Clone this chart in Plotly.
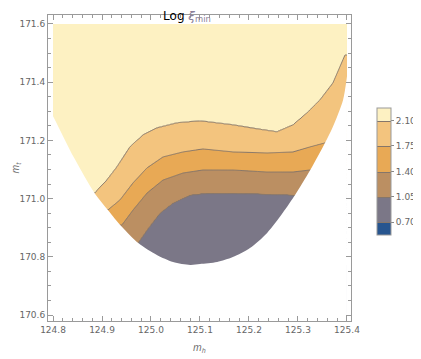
import numpy as np
import plotly.graph_objects as go

# level curves: (m_h, m_t) points along each one
lvl_105_x = [124.9735, 124.9918, 125.0184, 125.0449, 125.0796, 125.1143, 125.1673, 125.2367, 125.2939]
lvl_105_y = [170.8474, 170.8921, 170.9505, 170.9849, 171.0124, 171.0192, 171.0192, 171.0158, 171.0124]

lvl_140_x = [124.9408, 124.9633, 124.9918, 125.0245, 125.0653, 125.1061, 125.1673, 125.2367, 125.2898, 125.3245]
lvl_140_y = [170.9093, 170.9608, 171.0192, 171.0639, 171.0880, 171.0983, 171.0983, 171.0914, 171.0914, 171.0983]

lvl_175_x = [124.9122, 124.9367, 124.9633, 124.9918, 125.0245, 125.0653, 125.1061, 125.1673, 125.2367,
             125.2898, 125.3245, 125.3551]
lvl_175_y = [170.9608, 170.9952, 171.0536, 171.1052, 171.1430, 171.1601, 171.1704, 171.1601, 171.1567,
             171.1601, 171.1773, 171.1911]

lvl_210_x = [124.8857, 124.9102, 124.9306, 124.9571, 124.9837, 125.0122, 125.0531, 125.1000, 125.1673,
             125.2163, 125.2571, 125.2898, 125.3184, 125.3449, 125.3714, 125.3959]
lvl_210_y = [171.0192, 171.0639, 171.1086, 171.1773, 171.2186, 171.2426, 171.2598, 171.2667, 171.2529,
             171.2392, 171.2289, 171.2529, 171.2942, 171.3388, 171.3973, 171.4935]

# edge of the allowed region, left side then right side (bottom to top)
edge_x = [124.762, 124.802, 124.843, 124.886, 124.912, 124.941, 124.974, 125.012, 125.045, 125.080,
          125.100, 125.135, 125.167, 125.202, 125.237, 125.269, 125.294, 125.325, 125.355, 125.371,
          125.392, 125.400]
edge_y = [171.410, 171.277, 171.140, 171.016, 170.961, 170.902, 170.847, 170.806, 170.782, 170.772,
          170.775, 170.782, 170.799, 170.830, 170.882, 170.951, 171.012, 171.098, 171.191, 171.246,
          171.339, 171.420]

levels = [0.70, 1.05, 1.40, 1.75, 2.10]
colors = ['#27558f', '#7b7787', '#bb8f62', '#e8a955', '#f3c47e', '#fdf1c2']

xg = np.linspace(124.8, 125.4, 301)
yg = np.linspace(170.6, 171.6, 301)
z = np.zeros((len(yg), len(xg)))
for i, xv in enumerate(xg):
    ys = [170.3,
          np.interp(xv, lvl_105_x, lvl_105_y),
          np.interp(xv, lvl_140_x, lvl_140_y),
          np.interp(xv, lvl_175_x, lvl_175_y),
          np.interp(xv, lvl_210_x, lvl_210_y),
          171.9]
    z[:, i] = np.interp(yg, ys, [0.8, 1.05, 1.40, 1.75, 2.10, 2.6])

cs = [[k / 5, c] for k, c in enumerate(colors)]

fig = go.Figure()
fig.add_trace(go.Contour(
    x=xg, y=yg, z=z,
    autocontour=False,
    contours=dict(start=levels[0], end=levels[-1], size=0.35, coloring='fill'),
    colorscale=cs,
    line=dict(color='#85766a', width=1, smoothing=1.3),
    hoverinfo='skip',
    colorbar=dict(x=1.086, xanchor='left', xpad=0, y=0.489, yanchor='middle', ypad=0, len=0.415,
                  thickness=14, outlinewidth=1, outlinecolor='#999',
                  tickvals=levels, ticktext=['%.2f' % v for v in levels],
                  ticks='outside', ticklen=3, tickcolor='#888',
                  tickfont=dict(size=9, color='#666', family='DejaVu Sans')),
))

# white out everything below the edge curve
fig.add_trace(go.Scatter(x=edge_x, y=edge_y, fill='tozeroy', fillcolor='white',
                         mode='lines', line=dict(width=0, shape='spline', smoothing=0.8),
                         hoverinfo='skip', showlegend=False))

ax = dict(showline=True, linecolor='#9a9a9a', linewidth=1, mirror='ticks', automargin=False,
          ticks='inside', ticklen=5, tickcolor='#9a9a9a', showgrid=False, zeroline=False,
          tickfont=dict(size=9, color='#666', family='DejaVu Sans'))

fig.update_xaxes(range=[124.7898, 125.4082], dtick=0.1, tickformat='.1f',
                 minor=dict(dtick=0.02, ticks='inside', ticklen=3, tickcolor='#9a9a9a'),
                 title=dict(text='<i>m<sub>h</sub></i>', font=dict(size=10, color='#666'), standoff=10),
                 **ax)
fig.update_yaxes(range=[170.5794, 171.6309], dtick=0.2, tickformat='.1f',
                 minor=dict(dtick=0.05, ticks='inside', ticklen=3, tickcolor='#9a9a9a'),
                 title=dict(text='<i>m<sub>t</sub></i>', font=dict(size=10, color='#666'), standoff=0),
                 **ax)

# page body adds 8px around the figure, so the figure is 8px smaller
fig.update_layout(
    width=413, height=351,
    margin=dict(l=40, r=70, t=7, b=38, autoexpand=False),
    paper_bgcolor='white', plot_bgcolor='white',
    title=dict(text='Log <span style="color:#8a7f99"><i>ξ</i><sub>min</sub></span>',
               x=0.4334, xanchor='center', y=0.99, yanchor='top',
               font=dict(size=12, color='black', family='DejaVu Sans')),
)

fig.write_html("out.html")
